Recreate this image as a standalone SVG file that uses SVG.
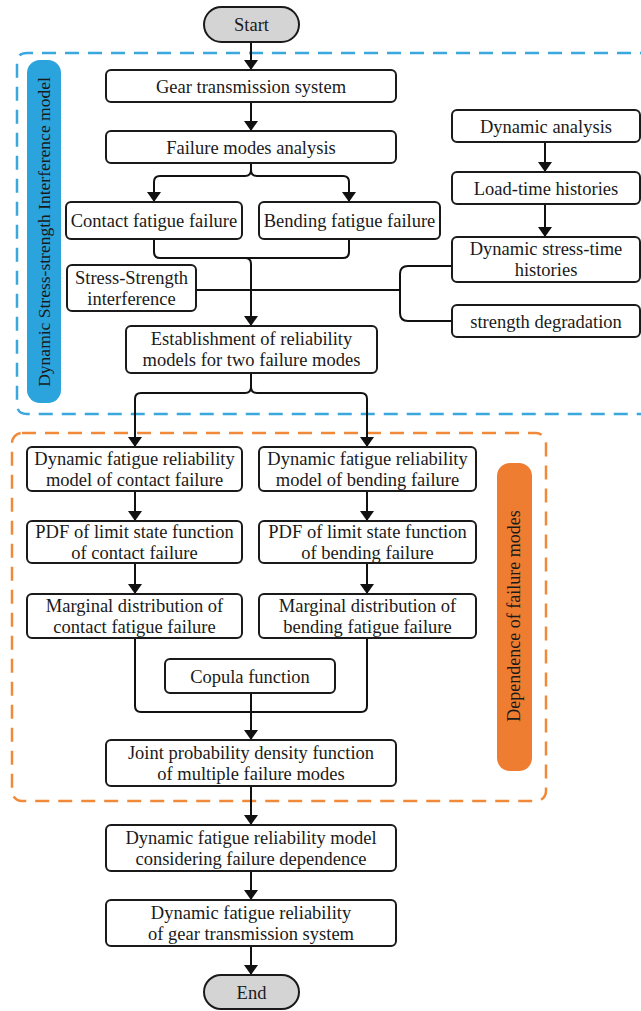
<svg xmlns="http://www.w3.org/2000/svg" width="641" height="1011" viewBox="0 0 641 1011">
<style>
.box{fill:#fff;stroke:#1a1a1a;stroke-width:2}
.term{fill:#d4d4d4;stroke:#1a1a1a;stroke-width:2}
.t{font-family:'Liberation Serif','DejaVu Serif',serif;font-size:18.5px;fill:#1a1a1a;text-anchor:middle}
.lab{font-family:'Liberation Serif','DejaVu Serif',serif;fill:#1a1a1a;text-anchor:middle}
.ln{fill:none;stroke:#111;stroke-width:2}
</style>
<defs>
<marker id="ah" viewBox="0 0 10 14" refX="10" refY="7" markerWidth="10" markerHeight="14" markerUnits="userSpaceOnUse" orient="auto">
<path d="M0,0 L10,7 L0,14 Z" fill="#111"/>
</marker>
</defs>
<rect width="641" height="1011" fill="#fff"/>

<g id="group-blue">
<path d="M700,53 H27 Q17,53 17,63 V404 Q17,414 27,414 H700" fill="none" stroke="#3aa7dd" stroke-width="2.5" stroke-dasharray="14,9"/>
<rect x="27" y="60" width="34" height="343" rx="13" fill="#2ba3dc"/>
<text class="lab" font-size="17.5" transform="translate(50,232) rotate(-90)">Dynamic Stress-strength Interference model</text>
</g>
<g id="group-orange">
<rect x="12" y="433" width="534" height="368" rx="10" fill="none" stroke="#f08a3a" stroke-width="2.5" stroke-dasharray="14,9"/>
<rect x="497" y="463" width="35" height="308" rx="13" fill="#ee7d31"/>
<text class="lab" font-size="18" transform="translate(520,616) rotate(-90)">Dependence of failure modes</text>
</g>

<g id="connectors">
<line class="ln" x1="251" y1="42" x2="251" y2="70" marker-end="url(#ah)"/>
<line class="ln" x1="251" y1="102" x2="251" y2="131" marker-end="url(#ah)"/>
<path class="ln" d="M251,163 V170 Q251,176 245,176 H160 Q154,176 154,182 V202" marker-end="url(#ah)"/>
<path class="ln" d="M251,170 Q251,176 257,176 H343 Q349,176 349,182 V202" marker-end="url(#ah)"/>
<path class="ln" d="M154,239 V252 Q154,258 160,258 H343 Q349,258 349,252 V239"/>
<path class="ln" d="M245,258 Q251,258 251,264 V326" marker-end="url(#ah)"/>
<line class="ln" x1="196" y1="290" x2="400" y2="290"/>
<path class="ln" d="M452,266 H408 Q400,266 400,274 V313 Q400,321 408,321 H452"/>
<line class="ln" x1="545" y1="142" x2="545" y2="172" marker-end="url(#ah)"/>
<line class="ln" x1="545" y1="204" x2="545" y2="237" marker-end="url(#ah)"/>
<path class="ln" d="M251,373 V387 Q251,393 245,393 H141 Q135,393 135,399 V447" marker-end="url(#ah)"/>
<path class="ln" d="M251,387 Q251,393 257,393 H361 Q367,393 367,399 V447" marker-end="url(#ah)"/>
<line class="ln" x1="135" y1="491" x2="135" y2="521" marker-end="url(#ah)"/>
<line class="ln" x1="367" y1="491" x2="367" y2="521" marker-end="url(#ah)"/>
<line class="ln" x1="135" y1="563" x2="135" y2="594" marker-end="url(#ah)"/>
<line class="ln" x1="367" y1="563" x2="367" y2="594" marker-end="url(#ah)"/>
<path class="ln" d="M135,638 V706 Q135,712 141,712 H361 Q367,712 367,706 V638"/>
<line class="ln" x1="251" y1="693" x2="251" y2="740" marker-end="url(#ah)"/>
<line class="ln" x1="251" y1="786" x2="251" y2="825" marker-end="url(#ah)"/>
<line class="ln" x1="251" y1="871" x2="251" y2="900" marker-end="url(#ah)"/>
<line class="ln" x1="251" y1="946" x2="251" y2="975" marker-end="url(#ah)"/>
</g>

<g id="start"><rect class="term" x="204" y="7" width="95" height="35" rx="17.5"/><text class="t" x="251.5" y="31">Start</text></g>
<g id="gear"><rect class="box" x="106" y="70" width="290" height="32" rx="5"/><text class="t" x="251" y="92.5">Gear transmission system</text></g>
<g id="fma"><rect class="box" x="106" y="131" width="290" height="32" rx="5"/><text class="t" x="251" y="153.5">Failure modes analysis</text></g>
<g id="contact"><rect class="box" x="66" y="202" width="176" height="37" rx="5"/><text class="t" x="154" y="226.5">Contact fatigue failure</text></g>
<g id="bending"><rect class="box" x="259" y="202" width="181" height="37" rx="5"/><text class="t" x="349.5" y="226.5">Bending fatigue failure</text></g>
<g id="ssi"><rect class="box" x="67" y="265" width="129" height="46" rx="5"/><text class="t" x="131.5" y="284">Stress-Strength</text><text class="t" x="131.5" y="305">interference</text></g>
<g id="dyn"><rect class="box" x="452" y="110" width="188" height="32" rx="5"/><text class="t" x="546" y="132.5">Dynamic analysis</text></g>
<g id="load"><rect class="box" x="452" y="172" width="188" height="32" rx="5"/><text class="t" x="546" y="194.5">Load-time histories</text></g>
<g id="stress"><rect class="box" x="452" y="237" width="188" height="45" rx="5"/><text class="t" x="546" y="255">Dynamic stress-time</text><text class="t" x="546" y="276">histories</text></g>
<g id="degr"><rect class="box" x="452" y="305" width="188" height="32" rx="5"/><text class="t" x="546" y="327.5">strength degradation</text></g>
<g id="estab"><rect class="box" x="126" y="326" width="251" height="47" rx="5"/><text class="t" x="251.5" y="345">Establishment of reliability</text><text class="t" x="251.5" y="366">models for two failure modes</text></g>

<g id="dfc"><rect class="box" x="27" y="447" width="215" height="44" rx="5"/><text class="t" x="134.5" y="465">Dynamic fatigue reliability</text><text class="t" x="134.5" y="486">model of contact failure</text></g>
<g id="dfb"><rect class="box" x="259" y="447" width="217" height="44" rx="5"/><text class="t" x="367.5" y="465">Dynamic fatigue reliability</text><text class="t" x="367.5" y="486">model of bending failure</text></g>
<g id="pdfc"><rect class="box" x="27" y="521" width="215" height="42" rx="5"/><text class="t" x="134.5" y="538">PDF of limit state function</text><text class="t" x="134.5" y="559">of contact failure</text></g>
<g id="pdfb"><rect class="box" x="259" y="521" width="217" height="42" rx="5"/><text class="t" x="367.5" y="538">PDF of limit state function</text><text class="t" x="367.5" y="559">of bending failure</text></g>
<g id="mc"><rect class="box" x="27" y="594" width="215" height="44" rx="5"/><text class="t" x="134.5" y="612">Marginal distribution of</text><text class="t" x="134.5" y="633">contact fatigue failure</text></g>
<g id="mb"><rect class="box" x="259" y="594" width="217" height="44" rx="5"/><text class="t" x="367.5" y="612">Marginal distribution of</text><text class="t" x="367.5" y="633">bending fatigue failure</text></g>
<g id="copula"><rect class="box" x="165" y="659" width="170" height="34" rx="5"/><text class="t" x="250" y="682.5">Copula function</text></g>
<g id="joint"><rect class="box" x="106" y="740" width="290" height="46" rx="5"/><text class="t" x="251" y="759">Joint probability density function</text><text class="t" x="251" y="780">of multiple failure modes</text></g>
<g id="dfr"><rect class="box" x="106" y="825" width="290" height="46" rx="5"/><text class="t" x="251" y="844">Dynamic fatigue reliability model</text><text class="t" x="251" y="865">considering failure dependence</text></g>
<g id="dfrg"><rect class="box" x="106" y="900" width="290" height="46" rx="5"/><text class="t" x="251" y="919">Dynamic fatigue reliability</text><text class="t" x="251" y="940">of gear transmission system</text></g>
<g id="end"><rect class="term" x="204" y="975" width="95" height="34" rx="17"/><text class="t" x="251.5" y="998.5">End</text></g>
</svg>
